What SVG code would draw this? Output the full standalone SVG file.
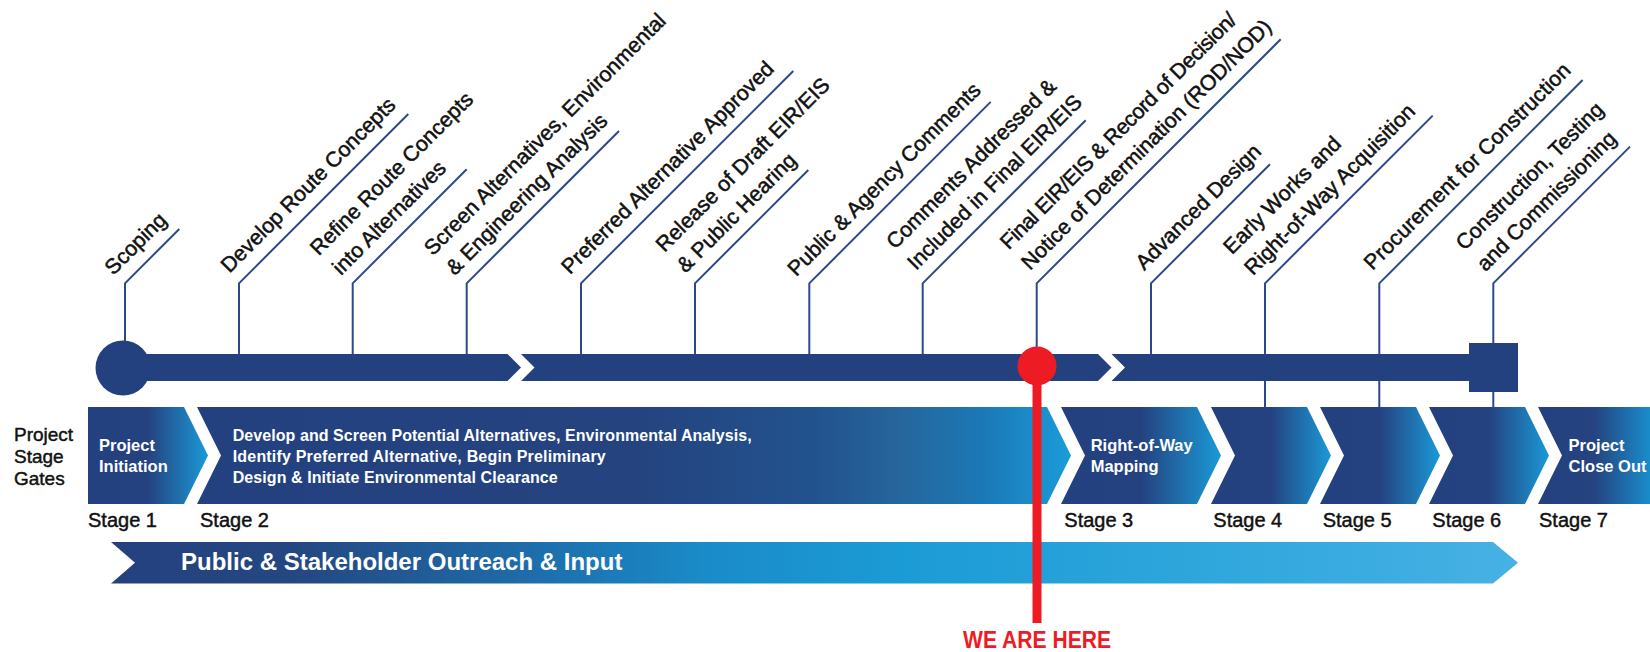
<svg xmlns="http://www.w3.org/2000/svg" width="1650" height="652" viewBox="0 0 1650 652">
  <defs>
    <linearGradient id="gStage" x1="0" y1="0" x2="1" y2="0">
      <stop offset="0" stop-color="#24417f"/>
      <stop offset="0.5" stop-color="#24427f"/>
      <stop offset="1" stop-color="#1a9ad7"/>
    </linearGradient>
    <linearGradient id="gStage7" x1="0" y1="0" x2="1" y2="0">
      <stop offset="0" stop-color="#24417f"/>
      <stop offset="0.5" stop-color="#24437f"/>
      <stop offset="1" stop-color="#1a8ccb"/>
    </linearGradient>
    <linearGradient id="gStage2" gradientUnits="userSpaceOnUse" x1="197" y1="0" x2="1071" y2="0">
      <stop offset="0" stop-color="#24417f"/>
      <stop offset="0.5" stop-color="#24437f"/>
      <stop offset="0.71" stop-color="#22538e"/>
      <stop offset="0.8" stop-color="#26659b"/>
      <stop offset="0.9" stop-color="#1b78b6"/>
      <stop offset="1" stop-color="#1a9cd8"/>
    </linearGradient>
    <linearGradient id="gOut" gradientUnits="userSpaceOnUse" x1="111" y1="0" x2="1518" y2="0">
      <stop offset="0" stop-color="#24417f"/>
      <stop offset="0.13" stop-color="#244781"/>
      <stop offset="0.32" stop-color="#1d72b0"/>
      <stop offset="0.42" stop-color="#1a8bc8"/>
      <stop offset="0.56" stop-color="#1b9bd5"/>
      <stop offset="0.77" stop-color="#2ea6dc"/>
      <stop offset="1" stop-color="#47b1e4"/>
    </linearGradient>
  </defs>
  <style>
    .lead{fill:none;stroke:#2c4a8a;stroke-width:2}
    .lbl{font-family:'Liberation Sans',Arial,sans-serif;font-size:21.3px;fill:#111;stroke:#111;stroke-width:0.5}
    .stg{font-family:'Liberation Sans',Arial,sans-serif;font-size:20px;fill:#111;stroke:#111;stroke-width:0.45}
    .box{font-family:'Liberation Sans',Arial,sans-serif;font-size:16.5px;font-weight:bold;fill:#fff}
    .bar{fill:#24417f}
  </style>

  <g id="connectors">
    <path class="lead" d="M125,354V283.3L179.3,229"/>
    <path class="lead" d="M239,354V283.3L408.3,114"/>
    <path class="lead" d="M352.7,354V283.3L466.7,169.3"/>
    <path class="lead" d="M466.7,354V283.3L619,131"/>
    <path class="lead" d="M581,354V283.3L793.3,71"/>
    <path class="lead" d="M695,354V283.3L808.3,170"/>
    <path class="lead" d="M809.3,354V283.3L990.7,101.9"/>
    <path class="lead" d="M922.7,354V283.3L1085.7,120.3"/>
    <path class="lead" d="M1036.7,354V283.3L1280.7,39.3"/>
    <path class="lead" d="M1151,354V283.3L1270,164.3"/>
    <path class="lead" d="M1265,407V283.3L1432.7,115.6"/>
    <path class="lead" d="M1379.3,407V283.3L1582.6,80"/>
    <path class="lead" d="M1493.3,407V283.3L1630,146.6"/>
  </g>

  <g id="labels">
    <g id="lbl-scoping" transform="translate(125,283.3) rotate(-45)"><text class="lbl" x="-3" y="-13.5">Scoping</text></g>
    <g id="lbl-develop" transform="translate(239,283.3) rotate(-45)"><text class="lbl" x="0" y="-13.5">Develop Route Concepts</text></g>
    <g id="lbl-refine" transform="translate(352.7,283.3) rotate(-45)"><text class="lbl" x="-5" y="-43">Refine Route Concepts</text><text class="lbl" x="-3" y="-13.5">into Alternatives</text></g>
    <g id="lbl-screen" transform="translate(466.7,283.3) rotate(-45)"><text class="lbl" x="-5" y="-43">Screen Alternatives, Environmental</text><text class="lbl" x="-3.5" y="-13.5">&amp; Engineering Analysis</text></g>
    <g id="lbl-preferred" transform="translate(581,283.3) rotate(-45)"><text class="lbl" x="-2" y="-13.5">Preferred Alternative Approved</text></g>
    <g id="lbl-release" transform="translate(695,283.3) rotate(-45)"><text class="lbl" x="0" y="-43">Release of Draft EIR/EIS</text><text class="lbl" x="0" y="-13.5">&amp; Public Hearing</text></g>
    <g id="lbl-public" transform="translate(809.3,283.3) rotate(-45)"><text class="lbl" x="-5" y="-13.5">Public &amp; Agency Comments</text></g>
    <g id="lbl-comments" transform="translate(922.7,283.3) rotate(-45)"><text class="lbl" x="4" y="-43">Comments Addressed &amp;</text><text class="lbl" x="4" y="-13.5">Included in Final EIR/EIS</text></g>
    <g id="lbl-final" transform="translate(1036.7,283.3) rotate(-45)"><text class="lbl" x="3.5" y="-43" textLength="324">Final EIR/EIS &amp; Record of Decision/</text><text class="lbl" x="4" y="-13.5">Notice of Determination (ROD/NOD)</text></g>
    <g id="lbl-advanced" transform="translate(1151,283.3) rotate(-45)"><text class="lbl" x="4" y="-13.5">Advanced Design</text></g>
    <g id="lbl-early" transform="translate(1265,283.3) rotate(-45)"><text class="lbl" x="-3.5" y="-43">Early Works and</text><text class="lbl" x="-3.5" y="-13.5">Right-of-Way Acquisition</text></g>
    <g id="lbl-procurement" transform="translate(1379.3,283.3) rotate(-45)"><text class="lbl" x="4" y="-13.5" textLength="282">Procurement for Construction</text></g>
    <g id="lbl-construction" transform="translate(1493.3,283.3) rotate(-45)"><text class="lbl" x="2.3" y="-43">Construction, Testing</text><text class="lbl" x="2.3" y="-13.5">and Commissioning</text></g>
  </g>

  <g id="timeline">
    <circle class="bar" cx="123" cy="368" r="27.5"/>
    <path class="bar" d="M123,354H507.5L521,367.5L507.5,381H123Z"/>
    <path class="bar" d="M521,354H1098L1111.5,367.5L1098,381H521L534.5,367.5Z"/>
    <path class="bar" d="M1111.5,354H1469V343H1518V392H1469V381H1111.5L1125,367.5Z"/>
  </g>

  <g id="stage-gates-title">
    <text class="stg" x="14" y="441" style="font-size:19px">Project</text>
    <text class="stg" x="14" y="463" style="font-size:19px">Stage</text>
    <text class="stg" x="14" y="484.5" style="font-size:19px">Gates</text>
  </g>

  <g id="stage1">
    <path fill="url(#gStage)" d="M88,407H184L208,455.5L184,504H88Z"/>
    <text class="box" x="99" y="450.7">Project</text>
    <text class="box" x="99" y="471.7">Initiation</text>
    <text class="stg" x="88" y="527">Stage 1</text>
  </g>
  <g id="stage2">
    <path fill="url(#gStage2)" d="M197,407H1047L1071,455.5L1047,504H197L221,455.5Z"/>
    <text class="box" style="font-size:16px" x="232.7" y="441" textLength="519">Develop and Screen Potential Alternatives, Environmental Analysis,</text>
    <text class="box" style="font-size:16px" x="232.7" y="461.7" textLength="373">Identify Preferred Alternative, Begin Preliminary</text>
    <text class="box" style="font-size:16px" x="232.7" y="482.7" textLength="325">Design &amp; Initiate Environmental Clearance</text>
    <text class="stg" x="200" y="527">Stage 2</text>
  </g>
  <g id="stage3">
    <path fill="url(#gStage)" d="M1061,407H1197L1221,455.5L1197,504H1061L1085,455.5Z"/>
    <text class="box" x="1090.7" y="450.7">Right-of-Way</text>
    <text class="box" x="1090.7" y="471.7">Mapping</text>
    <text class="stg" x="1064.3" y="527">Stage 3</text>
  </g>
  <g id="stage4">
    <path fill="url(#gStage)" d="M1211,407H1307L1331,455.5L1307,504H1211L1235,455.5Z"/>
    <text class="stg" x="1213.3" y="527">Stage 4</text>
  </g>
  <g id="stage5">
    <path fill="url(#gStage)" d="M1320,407H1416L1440,455.5L1416,504H1320L1344,455.5Z"/>
    <text class="stg" x="1322.7" y="527">Stage 5</text>
  </g>
  <g id="stage6">
    <path fill="url(#gStage)" d="M1429,407H1525L1549,455.5L1525,504H1429L1453,455.5Z"/>
    <text class="stg" x="1432.3" y="527">Stage 6</text>
  </g>
  <g id="stage7">
    <path fill="url(#gStage7)" d="M1538,407H1650V504H1538L1562,455.5Z"/>
    <text class="box" x="1568.6" y="450.7">Project</text>
    <text class="box" x="1568.6" y="471.7">Close Out</text>
    <text class="stg" x="1539" y="527">Stage 7</text>
  </g>

  <g id="outreach">
    <path fill="url(#gOut)" d="M111,542H1493L1518,562.7L1493,583.5H111L135,562.7Z"/>
    <text x="181" y="570" font-family="'Liberation Sans',Arial,sans-serif" font-size="24" font-weight="bold" fill="#fff">Public &amp; Stakeholder Outreach &amp; Input</text>
  </g>

  <g id="we-are-here">
    <rect x="1032.5" y="366" width="9" height="257" fill="#ed1c24"/>
    <circle cx="1037" cy="366" r="19.5" fill="#ed1c24"/>
    <text x="1037" y="648" text-anchor="middle" font-family="'Liberation Sans',Arial,sans-serif" font-size="24.5" font-weight="bold" fill="#ed1c24" textLength="148" lengthAdjust="spacingAndGlyphs">WE ARE HERE</text>
  </g>
</svg>
